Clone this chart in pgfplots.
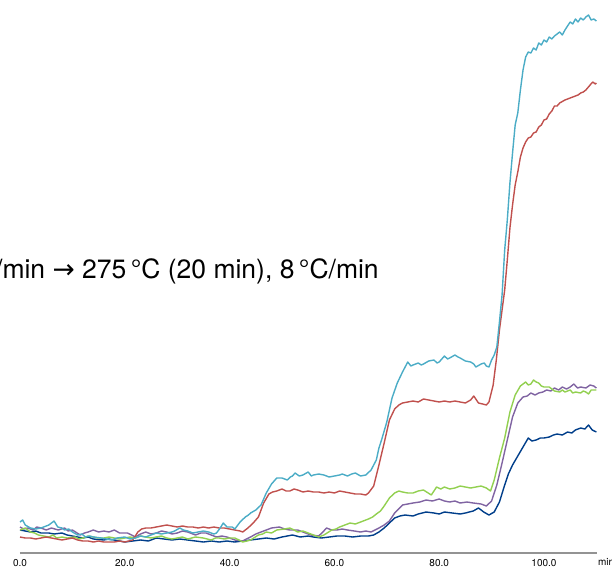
\documentclass[border=0pt]{standalone}
\usepackage{fontspec}
\setmainfont{TeX Gyre Heros}
\newfontfamily\dejavu{DejaVu Sans}
\usepackage{pgfplots}
\pgfplotsset{compat=1.18}
\definecolor{cAqua}{HTML}{4BACC6}
\definecolor{cRed}{HTML}{C0504D}
\definecolor{cGreen}{HTML}{92D050}
\definecolor{cPurple}{HTML}{8064A2}
\definecolor{cBlue}{HTML}{003E8A}
\begin{document}
\begin{tikzpicture}
\path[use as bounding box, clip] (-20pt,-15pt) rectangle (592pt,553pt);
\begin{axis}[
  at={(0pt,0pt)}, anchor=south west,
  scale only axis, width=576.9pt, height=553pt,
  xmin=0, xmax=110.1, ymin=0, ymax=553,
  axis x line=bottom, axis y line=none,
  x axis line style={draw=gray!85, line width=1.3pt, -},
  xtick={0,20,40,60,80,100},
  xticklabels={0.0,20.0,40.0,60.0,80.0,100.0},
  tick align=center, major tick length=2pt,
  tick style={black, line width=0.9pt},
  xticklabel style={font=\fontsize{10}{12}\selectfont, anchor=base, yshift=-12.5pt},
  ytick=\empty,
  clip=false,
  every axis plot/.append style={line width=1.4pt, no markers, line join=round},
]
% dark blue
\addplot[cBlue] coordinates {
(0,23)(1,22)(2,21)(3,22)(4,20)(5.5,20)(6.5,19)(8,20)(9,18)(10,17)(11,16)(12,15)(13,16)(14,14)(16,13)(17,14)(18,13)(20,11)(21.5,12)(23,13)(24.5,12)(26,15)(27.5,14)(29,13)(30.5,14)(32,13)(33.5,12)(35,11)(36.5,12)(38,11)(39.5,12)(41,11)(42.5,12)(44,13)(45.5,14)(47,15)(48.5,14)(50,16)(51,17)(52,18)(53.5,16)(55,17)(56,16)(57.5,15)(59,16)(60.5,17)(62,17)(63.5,16)(65,17)(66.5,17)(67.5,18)(68.5,21)(69.5,25)(70.5,30)(71.5,35)(72.5,37)(73.5,38)(75,37)(76,39)(77.5,41)(79,40)(80,39)(81,41)(82.5,40)(84,39)(85,40)(86.5,42)(87.5,45)(88.5,41)(89.5,38)(90.5,41)(91.5,51)(92.5,68)(93.2,79)(94,88)(95,97)(96,106)(97,115)(97.7,112)(98.5,113)(99.3,115)(100,115)(101,116)(101.8,118)(102.5,119)(103.5,118)(104.5,121)(105.3,120)(106,123)(107,125)(107.8,124)(108.5,128)(109.2,123)(110,121)};
% purple
\addplot[cPurple] coordinates {
(0,26)(0.7,24)(1.5,25)(2.5,23)(3.2,26)(4,25)(5,23)(6,25)(7.3,23)(8.5,25)(9.2,22)(10,23)(11.5,18)(12.3,20)(13,21)(14,23)(15,21)(16,22)(17,21)(18,23)(19,20)(20.5,20)(21.3,18)(22,16)(23,19)(24,21)(25,19)(26,20)(27,22)(28,21)(29,19)(30,20)(31,22)(32,21)(33.5,18)(34.5,20)(35.5,20)(36.5,18)(37.5,16)(38.5,17)(39.5,16)(41,13)(42.5,12)(43.2,14)(44,16)(45,19)(46,21)(47,23)(48,25)(49.5,26)(50.5,24)(51.5,23)(53,23)(54,21)(55.5,18)(57,17)(57.8,21)(58.5,25)(59.5,23)(60.5,23)(61.5,24)(62.5,23)(63.8,22)(65,21)(66,22)(67,21)(68.5,25)(69.5,28)(70.5,32)(71.5,40)(73,48)(74,49)(75,50)(76.3,51)(77.5,53)(78.7,52)(80,54)(81,52)(82,51)(83,52)(84,50)(85.3,51)(86.5,50)(88,49)(89,47)(90,52)(91,68)(92,90)(93,113)(94,136)(95,150)(96,156)(96.8,157)(97.5,160)(98.3,158)(99,160)(99.8,161)(100.5,163)(101.3,162)(102,165)(102.8,163)(103.5,166)(104.3,164)(105,166)(105.7,169)(106.4,165)(107,166)(108,165)(108.8,168)(109.5,167)(110,165)};
% green
\addplot[cGreen] coordinates {
(0,23)(1,25)(2,21)(2.8,20)(3.5,18)(4.5,17)(5.5,16)(6.3,18)(7,15)(8,16)(9,15)(10.5,16)(11.2,14)(12,15)(13,17)(14,16)(15,15)(16,15)(17,16)(18,15)(19,14)(20,15)(21,16)(22,15)(23,17)(24,16)(25,15)(26,16)(27,17)(28,15)(29,14)(30,15)(31,16)(32,14)(33.5,16)(35,15)(36.5,13)(37.3,15)(38,15)(39,14)(40,15)(41,15)(41.8,13)(42.5,11)(43.3,12)(44,13)(45.5,18)(46.3,19)(47,21)(48,20)(49,23)(50.5,24)(51.5,25)(52.3,23)(53,21)(54,22)(55,20)(56,18)(57,16)(58,18)(59.5,23)(60.3,24)(61,26)(62,28)(63,30)(64,29)(65,31)(66.5,34)(67.3,36)(68,39)(68.8,42)(69.5,47)(70.5,55)(71.5,60)(72.3,62)(73,61)(74,60)(75,60)(76,62)(77,63)(78.5,58)(79.5,66)(80.3,64)(81,66)(82,64)(83,65)(84,67)(85,66)(86,65)(87,66)(88,67)(89,65)(89.8,62)(90.5,73)(91.5,95)(92.5,115)(93.5,141)(94.5,158)(95.5,167)(96.5,171)(97,168)(97.5,169)(98,173)(98.5,171)(99,170)(99.5,167)(100,166)(101,166)(101.5,164)(102,162)(103,161)(103.5,163)(104,161)(105,163)(105.5,160)(106,161)(107,160)(107.5,162)(108,161)(108.5,159)(109,163)(110,163)};
% red
\addplot[cRed] coordinates {
(0,16)(1,15)(2,15)(3,14)(4,15)(5,16)(6,15)(7,14)(8,13)(9,14)(10,15)(11,13)(12,12)(13,12)(14,11)(15,12)(16,11)(17,11)(18,11)(19,12)(20,11)(21.5,13)(22.5,21)(23.2,24)(24,25)(25,25)(26,26)(27,27)(28,28)(29,27)(30,26)(31,27)(32,26)(33,26)(34,25)(35,26)(36,25)(37,26)(38,25)(39,25)(40,24)(41,23)(42,22)(42.5,21)(43.5,25)(44.5,30)(45.5,36)(46.5,50)(47.5,59)(48.2,61)(49,62)(50,64)(50.8,62)(51.5,62)(52.3,64)(53,63)(54,61)(55,62)(56,61)(57,61)(58,60)(59,61)(60,60)(61,62)(62,61)(63,60)(64,59)(65,59)(66,58)(66.5,60)(67.5,67)(68.5,88)(69.5,110)(70.5,133)(71.5,144)(72.3,148)(73,150)(74,151)(75,152)(76,151)(77,154)(78,153)(79,152)(80,151)(81,152)(82,151)(83,152)(84,151)(85,150)(86,153)(86.6,157)(87.5,150)(88.3,149)(89,148)(89.5,151)(90.3,168)(90.9,193)(91.5,223)(92,243)(92.5,263)(93,293)(93.5,325)(94,348)(94.5,368)(95,381)(95.5,396)(96,405)(96.5,411)(97,415)(97.5,416)(98,420)(98.5,421)(99,426)(99.5,428)(100,433)(100.5,434)(101,439)(101.5,442)(102,447)(102.5,447)(103,450)(104,453)(105,455)(106,457)(106.5,458)(107,460)(107.5,461)(108,463)(108.8,468)(109.3,471)(109.8,469)(110,470)};
% aqua
\addplot[cAqua] coordinates {
(0,31)(0.5,33)(1,28)(2,25)(3,24)(4,25)(5,27)(5.5,28)(6.5,32)(7.2,26)(8,25)(8.5,23)(9.3,24)(10,21)(11,18)(11.8,19)(12.5,16)(13.3,17)(14,16)(15.5,15)(16.5,14)(17.5,13)(18.5,15)(20,16)(21,14)(22,15)(23,17)(24,16)(25,18)(26,20)(27,19)(28,20)(29,21)(29.5,22)(30.5,25)(31.2,23)(32,22)(33,20)(34,21)(35,22)(36,21)(37,19)(37.5,20)(38.2,25)(38.8,30)(39.5,26)(40.5,26)(41,24)(42,31)(43,36)(43.6,38)(44,40)(45,43)(45.6,46)(46,48)(47,60)(48,69)(49,75)(50,75)(51,73)(51.6,76)(52,77)(52.5,80)(53.3,77)(54,78)(55,81)(55.6,77)(56,78)(57,79)(58,78)(59,76)(60,77)(61,78)(61.5,79)(62.5,77)(63.3,79)(64,80)(65,77)(66,78)(67,83)(68,93)(68.5,105)(69,113)(70,131)(71,155)(72,170)(73,181)(74,191)(74.6,187)(75,188)(76,190)(76.6,188)(77,189)(78,192)(79,193)(79.6,190)(80,191)(81,197)(81.6,194)(82,195)(83,198)(83.6,196)(84,195)(85,192)(86,191)(86.6,189)(87,186)(88,189)(88.6,190)(89,187)(89.5,186)(90,193)(90.5,198)(91,206)(91.5,231)(92,258)(92.5,303)(93,333)(93.5,370)(94,400)(94.5,428)(95,440)(95.5,463)(96,483)(96.5,496)(97,501)(97.5,500)(98,505)(98.5,503)(99,510)(99.5,508)(100,513)(100.5,511)(101,516)(101.5,514)(102,517)(102.5,519)(103,521)(103.5,518)(104,523)(104.5,527)(105,531)(105.5,529)(106,534)(106.5,531)(107,535)(107.5,533)(108,536)(108.5,538)(109,533)(109.5,534)(110,532)};
\node[anchor=base west, inner sep=0pt, font=\fontsize{10}{12}\selectfont] at (axis cs:110.1,0) [yshift=-12.5pt, xshift=1pt] {min};
\node[anchor=base east, inner sep=0pt, font=\fontsize{26.5}{30}\selectfont] at (axis cs:68.5,275) {°C/min {\dejavu →} 275\,°C (20 min), 8\,°C/min};
\end{axis}
\end{tikzpicture}
\end{document}
